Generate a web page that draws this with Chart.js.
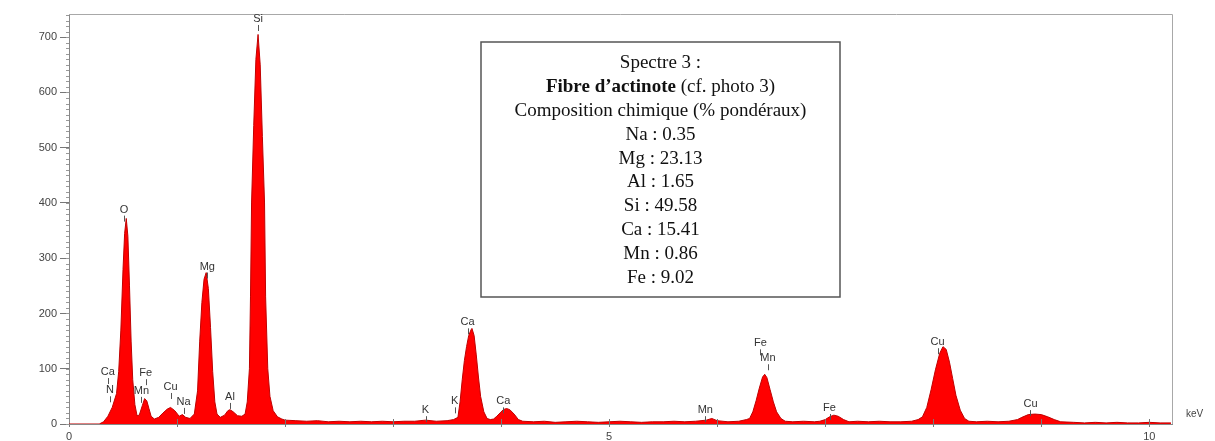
<!DOCTYPE html>
<html>
<head>
<meta charset="utf-8">
<script src="https://cdn.jsdelivr.net/npm/chart.js@4.4.1/dist/chart.umd.min.js"></script>
<style>
  html, body { margin: 0; padding: 0; background: #fff; }
  #wrap { width: 1215px; height: 441px; }
</style>
</head>
<body>
<div id="wrap"><canvas id="spectre" width="1215" height="441"></canvas></div>
<script>
const energies = [
  0, 0.28, 0.32, 0.36, 0.40, 0.44, 0.46, 0.48, 0.50, 0.515, 0.53, 0.545, 0.56, 0.575, 0.59, 0.61,
  0.63, 0.65, 0.68, 0.70, 0.72, 0.74, 0.76, 0.79, 0.83, 0.87, 0.91, 0.94, 0.98, 1.02, 1.05, 1.08,
  1.12, 1.16, 1.19, 1.21, 1.23, 1.25, 1.27, 1.29, 1.31, 1.33, 1.35, 1.37, 1.40, 1.44, 1.47, 1.49,
  1.52, 1.56, 1.60, 1.63, 1.65, 1.67, 1.68, 1.69, 1.71, 1.73, 1.75, 1.77, 1.79, 1.81, 1.82, 1.84,
  1.86, 1.89, 1.93, 1.97, 2.0, 2.1, 2.2, 2.3, 2.4, 2.5, 2.6, 2.7, 2.8, 2.9, 3.0, 3.1, 3.2,
  3.3, 3.4, 3.5, 3.56, 3.60, 3.62, 3.64, 3.66, 3.68, 3.70, 3.72, 3.73, 3.75, 3.77, 3.79, 3.81,
  3.84, 3.87, 3.90, 3.93, 3.96, 3.99, 4.02, 4.05, 4.08, 4.12, 4.16, 4.2, 4.3, 4.4, 4.5, 4.6,
  4.7, 4.8, 4.9, 5.0, 5.1, 5.2, 5.3, 5.4, 5.5, 5.6, 5.7, 5.8, 5.9, 5.95, 6.0, 6.1,
  6.2, 6.27, 6.30, 6.33, 6.36, 6.39, 6.42, 6.44, 6.46, 6.49, 6.52, 6.55, 6.59, 6.63, 6.7, 6.8,
  6.9, 6.95, 7.00, 7.04, 7.08, 7.12, 7.17, 7.22, 7.3, 7.4, 7.5, 7.6, 7.7, 7.8, 7.86, 7.90,
  7.94, 7.98, 8.02, 8.06, 8.09, 8.12, 8.15, 8.18, 8.21, 8.25, 8.29, 8.33, 8.4, 8.5, 8.6, 8.7,
  8.78, 8.82, 8.88, 8.94, 9.00, 9.06, 9.12, 9.18, 9.3, 9.4, 9.5, 9.6, 9.7, 9.8, 9.9, 10.0,
  10.1, 10.2
];
const counts = [
  0, 0, 4, 14, 30, 55, 95, 170, 280, 345, 372, 340, 250, 150, 80, 35,
  15, 16, 34, 46, 42, 28, 14, 9, 12, 20, 27, 30, 24, 14, 17, 12,
  10, 18, 60, 150, 220, 262, 274, 245, 175, 95, 40, 18, 12, 16, 24, 26,
  22, 15, 14, 18, 40, 100, 230, 400, 540, 660, 705, 650, 520, 400, 230, 100,
  50, 24, 13, 9, 7, 6, 5, 6, 4, 5, 4, 5, 4, 5, 4, 5, 5,
  7, 5, 6, 8, 12, 40, 80, 115, 140, 160, 170, 173, 160, 125, 85, 50,
  22, 10, 8, 9, 14, 20, 26, 28, 26, 18, 8, 5, 4, 5, 3, 4,
  5, 4, 3, 4, 5, 4, 3, 4, 4, 5, 4, 5, 7, 10, 6, 4,
  5, 8, 10, 22, 42, 65, 85, 90, 84, 62, 40, 22, 10, 5, 4, 5,
  4, 5, 8, 13, 16, 14, 8, 4, 5, 4, 5, 4, 4, 5, 8, 13,
  30, 62, 98, 128, 140, 135, 112, 82, 52, 25, 10, 5, 4, 5, 4, 5,
  8, 12, 17, 18, 17, 13, 8, 4, 3, 2, 3, 2, 3, 2, 2, 3,
  2, 2
];

// raies identifiees : nom, position du libelle (keV, coups)
const peakNames  = ["Ca", "N", "O", "Fe", "Mn", "Cu", "Na", "Mg", "Al", "Si", "K", "K", "Ca", "Ca", "Mn", "Fe", "Mn", "Fe", "Cu", "Cu"];
const peakE      = [0.36, 0.38, 0.51, 0.71, 0.67, 0.94, 1.06, 1.28, 1.49, 1.75, 3.30, 3.57, 3.69, 4.02, 5.89, 6.40, 6.47, 7.04, 8.04, 8.90];
const peakLabelC = [94, 61, 388, 92, 60, 67, 40, 285, 49, 733, 25, 41, 184, 41, 25, 146, 119, 29, 148, 36];

const xTickLabels = [0, 5, 10];
const yTickLabels = [0, 100, 200, 300, 400, 500, 600, 700];

const boxLines = [
  "Spectre 3 :",
  null, // ligne mixte gras / normal
  "Composition chimique (% pondéraux)",
  "Na : 0.35",
  "Mg : 23.13",
  "Al : 1.65",
  "Si : 49.58",
  "Ca : 15.41",
  "Mn : 0.86",
  "Fe : 9.02"
];

const sans = "'Liberation Sans', Arial, sans-serif";
const serif = "'Liberation Serif', 'Times New Roman', serif";

const decorPlugin = {
  id: "decor",
  afterDatasetsDraw(chart) {
    const ctx = chart.ctx;
    const xs = chart.scales.x, ys = chart.scales.y;
    const a = chart.chartArea;
    ctx.save();

    // cadre gris haut / droite
    ctx.strokeStyle = "#a8a8a8";
    ctx.lineWidth = 1;
    ctx.beginPath();
    ctx.moveTo(a.left, a.top + 0.5);
    ctx.lineTo(a.right + 0.5, a.top + 0.5);
    ctx.lineTo(a.right + 0.5, a.bottom);
    ctx.stroke();

    // graduations mineures de l'axe y (tous les 10 coups)
    ctx.strokeStyle = "#999";
    ctx.beginPath();
    for (let v = 0; v <= 740; v += 10) {
      const py = Math.round(ys.getPixelForValue(v)) + 0.5;
      ctx.moveTo(a.left - 3, py);
      ctx.lineTo(a.left, py);
    }
    ctx.stroke();

    // graduations de l'axe x (chaque keV)
    ctx.strokeStyle = "#777";
    ctx.beginPath();
    for (let e = 1; e <= 10; e++) {
      const px = Math.round(xs.getPixelForValue(e)) + 0.5;
      ctx.moveTo(px, a.bottom - 5);
      ctx.lineTo(px, a.bottom + 3);
    }
    ctx.stroke();

    // libelles des raies
    ctx.font = "11px " + sans;
    ctx.textAlign = "center";
    ctx.textBaseline = "middle";
    peakNames.forEach((name, i) => {
      const px = xs.getPixelForValue(peakE[i]);
      const py = ys.getPixelForValue(peakLabelC[i]);
      ctx.fillStyle = "#333";
      ctx.fillText(name, px, py);
      ctx.strokeStyle = "#555";
      ctx.beginPath();
      ctx.moveTo(Math.round(px) + 0.5, py + 6);
      ctx.lineTo(Math.round(px) + 0.5, py + 12);
      ctx.stroke();
    });

    // unite
    ctx.font = "10px " + sans;
    ctx.fillStyle = "#444";
    ctx.textAlign = "left";
    ctx.fillText("keV", a.right + 14, a.bottom - 10);

    // encadre composition
    const bx = 481, by = 42, bw = 359, bh = 255;
    ctx.fillStyle = "#fff";
    ctx.fillRect(bx, by, bw, bh);
    ctx.strokeStyle = "#555";
    ctx.lineWidth = 1.5;
    ctx.strokeRect(bx, by, bw, bh);

    const cx = bx + bw / 2;
    ctx.fillStyle = "#111";
    ctx.textBaseline = "middle";
    boxLines.forEach((line, i) => {
      const ly = 63 + i * 23.9;
      if (line === null) {
        const boldTxt = "Fibre d’actinote";
        const normTxt = " (cf. photo 3)";
        ctx.font = "bold 19px " + serif;
        const wb = ctx.measureText(boldTxt).width;
        ctx.font = "19px " + serif;
        const wn = ctx.measureText(normTxt).width;
        const x0 = cx - (wb + wn) / 2;
        ctx.textAlign = "left";
        ctx.font = "bold 19px " + serif;
        ctx.fillText(boldTxt, x0, ly);
        ctx.font = "19px " + serif;
        ctx.fillText(normTxt, x0 + wb, ly);
      } else {
        ctx.font = "19px " + serif;
        ctx.textAlign = "center";
        ctx.fillText(line, cx, ly);
      }
    });

    ctx.restore();
  }
};

const data = {
  datasets: [
    {
      label: "Spectre 3",
      data: energies.map((e, i) => ({ x: e, y: counts[i] })),
      fill: "origin",
      backgroundColor: "#ff0000",
      borderColor: "#c00000",
      borderWidth: 1,
      pointRadius: 0,
      tension: 0,
    },
  ],
};

const config = {
  type: "line",
  data,
  options: {
    responsive: false,
    animation: false,
    devicePixelRatio: 1,
    layout: { padding: { top: 14, right: 43, left: 0, bottom: 0 } },
    plugins: { legend: { display: false }, tooltip: { enabled: false } },
    scales: {
      x: {
        type: "linear",
        min: 0,
        max: 10.21,
        afterBuildTicks: (s) => { s.ticks = xTickLabels.map((v) => ({ value: v })); },
        afterFit: (s) => { s.height = 17; },
        ticks: { color: "#444", font: { size: 11, family: sans }, padding: 3, maxRotation: 0 },
        grid: { display: true, drawOnChartArea: false, drawTicks: true, tickLength: 3, color: "#777" },
        border: { color: "#888" },
      },
      y: {
        min: 0,
        max: 742,
        afterBuildTicks: (s) => { s.ticks = yTickLabels.map((v) => ({ value: v })); },
        afterFit: (s) => { s.width = 69; },
        ticks: { color: "#444", font: { size: 11, family: sans }, padding: 3 },
        grid: { display: true, drawOnChartArea: false, drawTicks: true, tickLength: 9, color: "#777" },
        border: { color: "#888" },
      },
    },
  },
  plugins: [decorPlugin],
};

const myChart = new Chart(document.getElementById("spectre"), config);
</script>
</body>
</html>
